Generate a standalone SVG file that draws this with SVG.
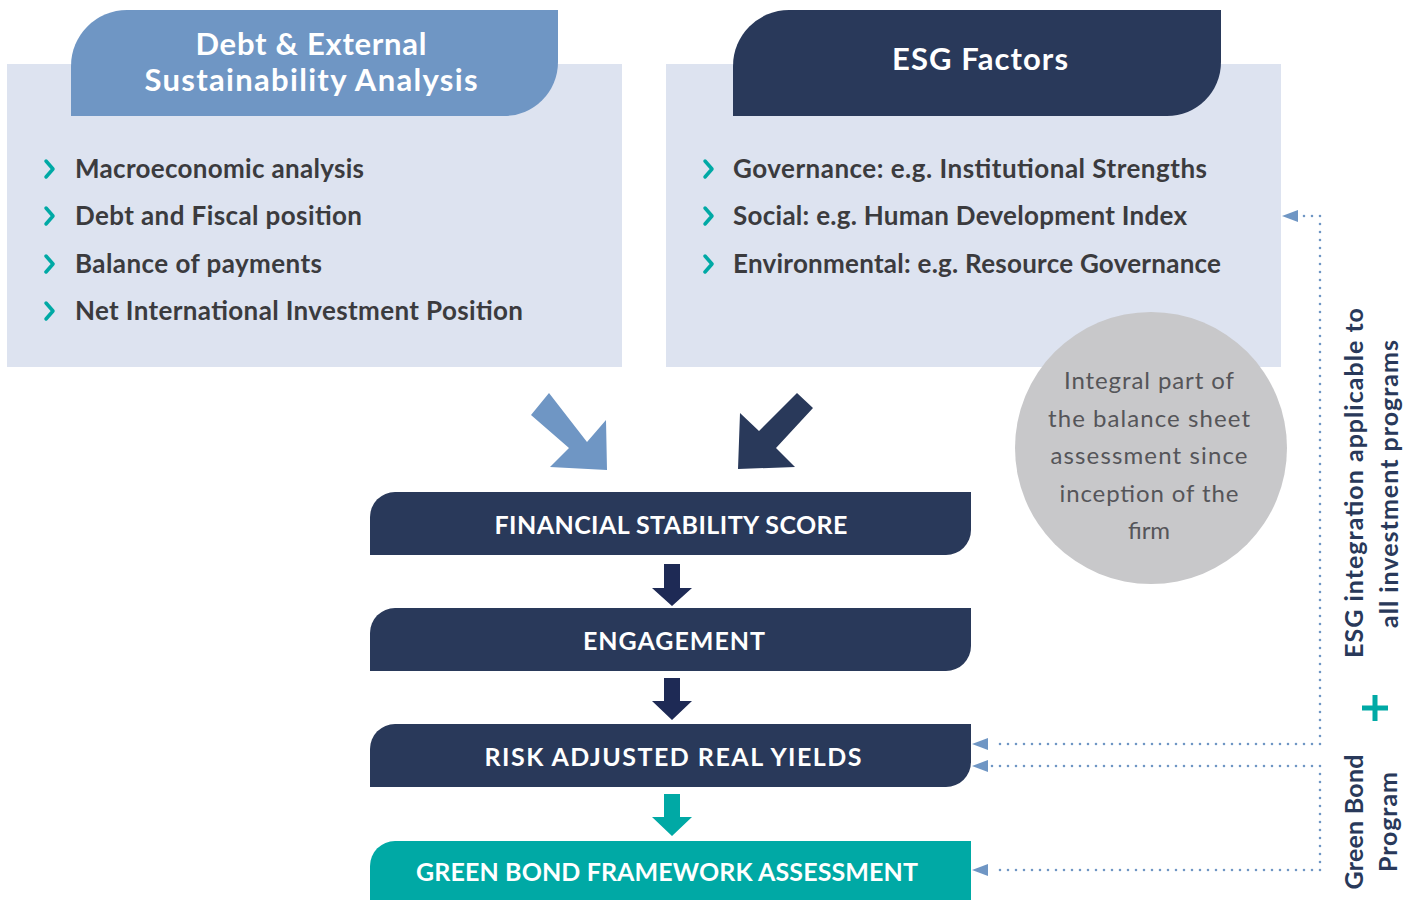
<svg xmlns="http://www.w3.org/2000/svg" width="1419" height="900" viewBox="0 0 1419 900">
<style>
.panel{fill:#dde3f0}
.bul{font-family:Lato,"Open Sans",sans-serif;font-weight:700;font-size:26px;fill:#3b3b3e}
.chev{fill:none;stroke:#00a9a5;stroke-width:3.5;stroke-linecap:round;stroke-linejoin:round}
.hdr{font-family:Lato,"Open Sans",sans-serif;font-weight:700;font-size:31px;fill:#ffffff;text-anchor:middle}
.box{fill:#29395a}
.btxt{font-family:Lato,"Open Sans",sans-serif;font-weight:700;font-size:25px;fill:#ffffff;text-anchor:middle}
.ctxt{font-family:Lato,"Open Sans",sans-serif;font-weight:400;font-size:24px;fill:#555559;text-anchor:middle}
.vtxt{font-family:Lato,"Open Sans",sans-serif;font-weight:700;font-size:25px;fill:#29395a;text-anchor:middle}
.dot{fill:none;stroke:#6f96c4;stroke-width:2.6;stroke-linecap:round;stroke-dasharray:0 8}
.ah{fill:#6f96c4}
</style>

<g id="debt-panel">
<rect class="panel" x="7" y="64" width="615" height="303"/>
<path d="M71,116 L71,66 A56,56 0 0 1 127,10 L558,10 L558,62 A54,54 0 0 1 504,116 Z" fill="#6f96c4"/>
<text class="hdr" x="311" y="55" textLength="231">Debt &amp; External</text>
<text class="hdr" x="311" y="91" textLength="333">Sustainability Analysis</text>
<polyline class="chev" points="46,161 53,169 46,177"/>
<text class="bul" x="75" y="178" textLength="289">Macroeconomic analysis</text>
<polyline class="chev" points="46,208 53,216 46,224"/>
<text class="bul" x="75" y="225" textLength="287">Debt and Fiscal position</text>
<polyline class="chev" points="46,256 53,264 46,272"/>
<text class="bul" x="75" y="273" textLength="247">Balance of payments</text>
<polyline class="chev" points="46,303 53,311 46,319"/>
<text class="bul" x="75" y="320" textLength="448">Net International Investment Position</text>
</g>

<g id="esg-panel">
<rect class="panel" x="666" y="64" width="615" height="303"/>
<path d="M733,116 L733,66 A56,56 0 0 1 789,10 L1221,10 L1221,62 A54,54 0 0 1 1167,116 Z" fill="#29395a"/>
<text class="hdr" x="980" y="70" textLength="176">ESG Factors</text>
<polyline class="chev" points="705,161 712,169 705,177"/>
<text class="bul" x="733" y="178" textLength="474">Governance: e.g. Institutional Strengths</text>
<polyline class="chev" points="705,208 712,216 705,224"/>
<text class="bul" x="733" y="225" textLength="454">Social: e.g. Human Development Index</text>
<polyline class="chev" points="705,256 712,264 705,272"/>
<text class="bul" x="733" y="273" textLength="488">Environmental: e.g. Resource Governance</text>
</g>

<g id="integral-note">
<circle cx="1151" cy="448" r="136" fill="#c8c8ca"/>
<text class="ctxt" x="1149" y="389" textLength="170">Integral part of</text>
<text class="ctxt" x="1149" y="427" textLength="202">the balance sheet</text>
<text class="ctxt" x="1149" y="464" textLength="197">assessment since</text>
<text class="ctxt" x="1149" y="502" textLength="179">inception of the</text>
<text class="ctxt" x="1149" y="539" textLength="42">firm</text>
</g>

<g id="merge-arrows">
<polygon points="531,415 549,393 587,442 606,420 607,470 550,467 569,448" fill="#6f96c4"/>
<polygon points="797,393 813,408 776,448 795,467 738,469 740,413 759,431" fill="#29395a"/>
</g>

<g id="fss">
<path class="box" d="M370,555 L370,517 A25,25 0 0 1 395,492 L971,492 L971,530 A25,25 0 0 1 946,555 Z"/>
<text class="btxt" x="671" y="534" textLength="353">FINANCIAL STABILITY SCORE</text>
</g>
<g id="engagement">
<path class="box" d="M370,671 L370,633 A25,25 0 0 1 395,608 L971,608 L971,646 A25,25 0 0 1 946,671 Z"/>
<text class="btxt" x="674" y="650" textLength="182">ENGAGEMENT</text>
</g>
<g id="yields">
<path class="box" d="M370,787 L370,749 A25,25 0 0 1 395,724 L971,724 L971,762 A25,25 0 0 1 946,787 Z"/>
<text class="btxt" x="673" y="766" textLength="377">RISK ADJUSTED REAL YIELDS</text>
</g>
<g id="green-bond">
<path d="M370,910 L370,866 A25,25 0 0 1 395,841 L971,841 L971,910 Z" fill="#00a9a5"/>
<text class="btxt" x="667" y="881" textLength="502">GREEN BOND FRAMEWORK ASSESSMENT</text>
</g>

<g id="esg-label">
<text class="vtxt" transform="translate(1363,483) rotate(-90)" textLength="350">ESG integration applicable to</text>
<text class="vtxt" transform="translate(1398,484) rotate(-90)" textLength="288">all investment programs</text>
</g>
<g id="plus">
<path d="M1362,708 H1388 M1375,695 V721" stroke="#00a9a5" stroke-width="5" fill="none"/>
</g>
<g id="gb-label">
<text class="vtxt" transform="translate(1363,822) rotate(-90)" textLength="135">Green Bond</text>
<text class="vtxt" transform="translate(1397,822) rotate(-90)" textLength="100">Program</text>
</g>

<g id="connectors">
<polygon points="664,564 680,564 680,588 692,588 672,606 652,588 664,588" fill="#1e2a55"/>
<polygon points="664,678 680,678 680,701 692,701 672,720 652,701 664,701" fill="#1e2a55"/>
<polygon points="664,794 680,794 680,817 692,817 672,836 652,817 664,817" fill="#00a9a5"/>

<path class="dot" d="M1304,216 H1320 V744 H992"/>
<polygon class="ah" points="1282,216 1298,210 1298,222"/>
<polygon class="ah" points="972,744 988,738 988,750"/>
<path class="dot" d="M992,766 H1320 V870 H992"/>
<polygon class="ah" points="972,766 988,760 988,772"/>
<polygon class="ah" points="972,870 988,864 988,876"/>
</g>
</svg>
